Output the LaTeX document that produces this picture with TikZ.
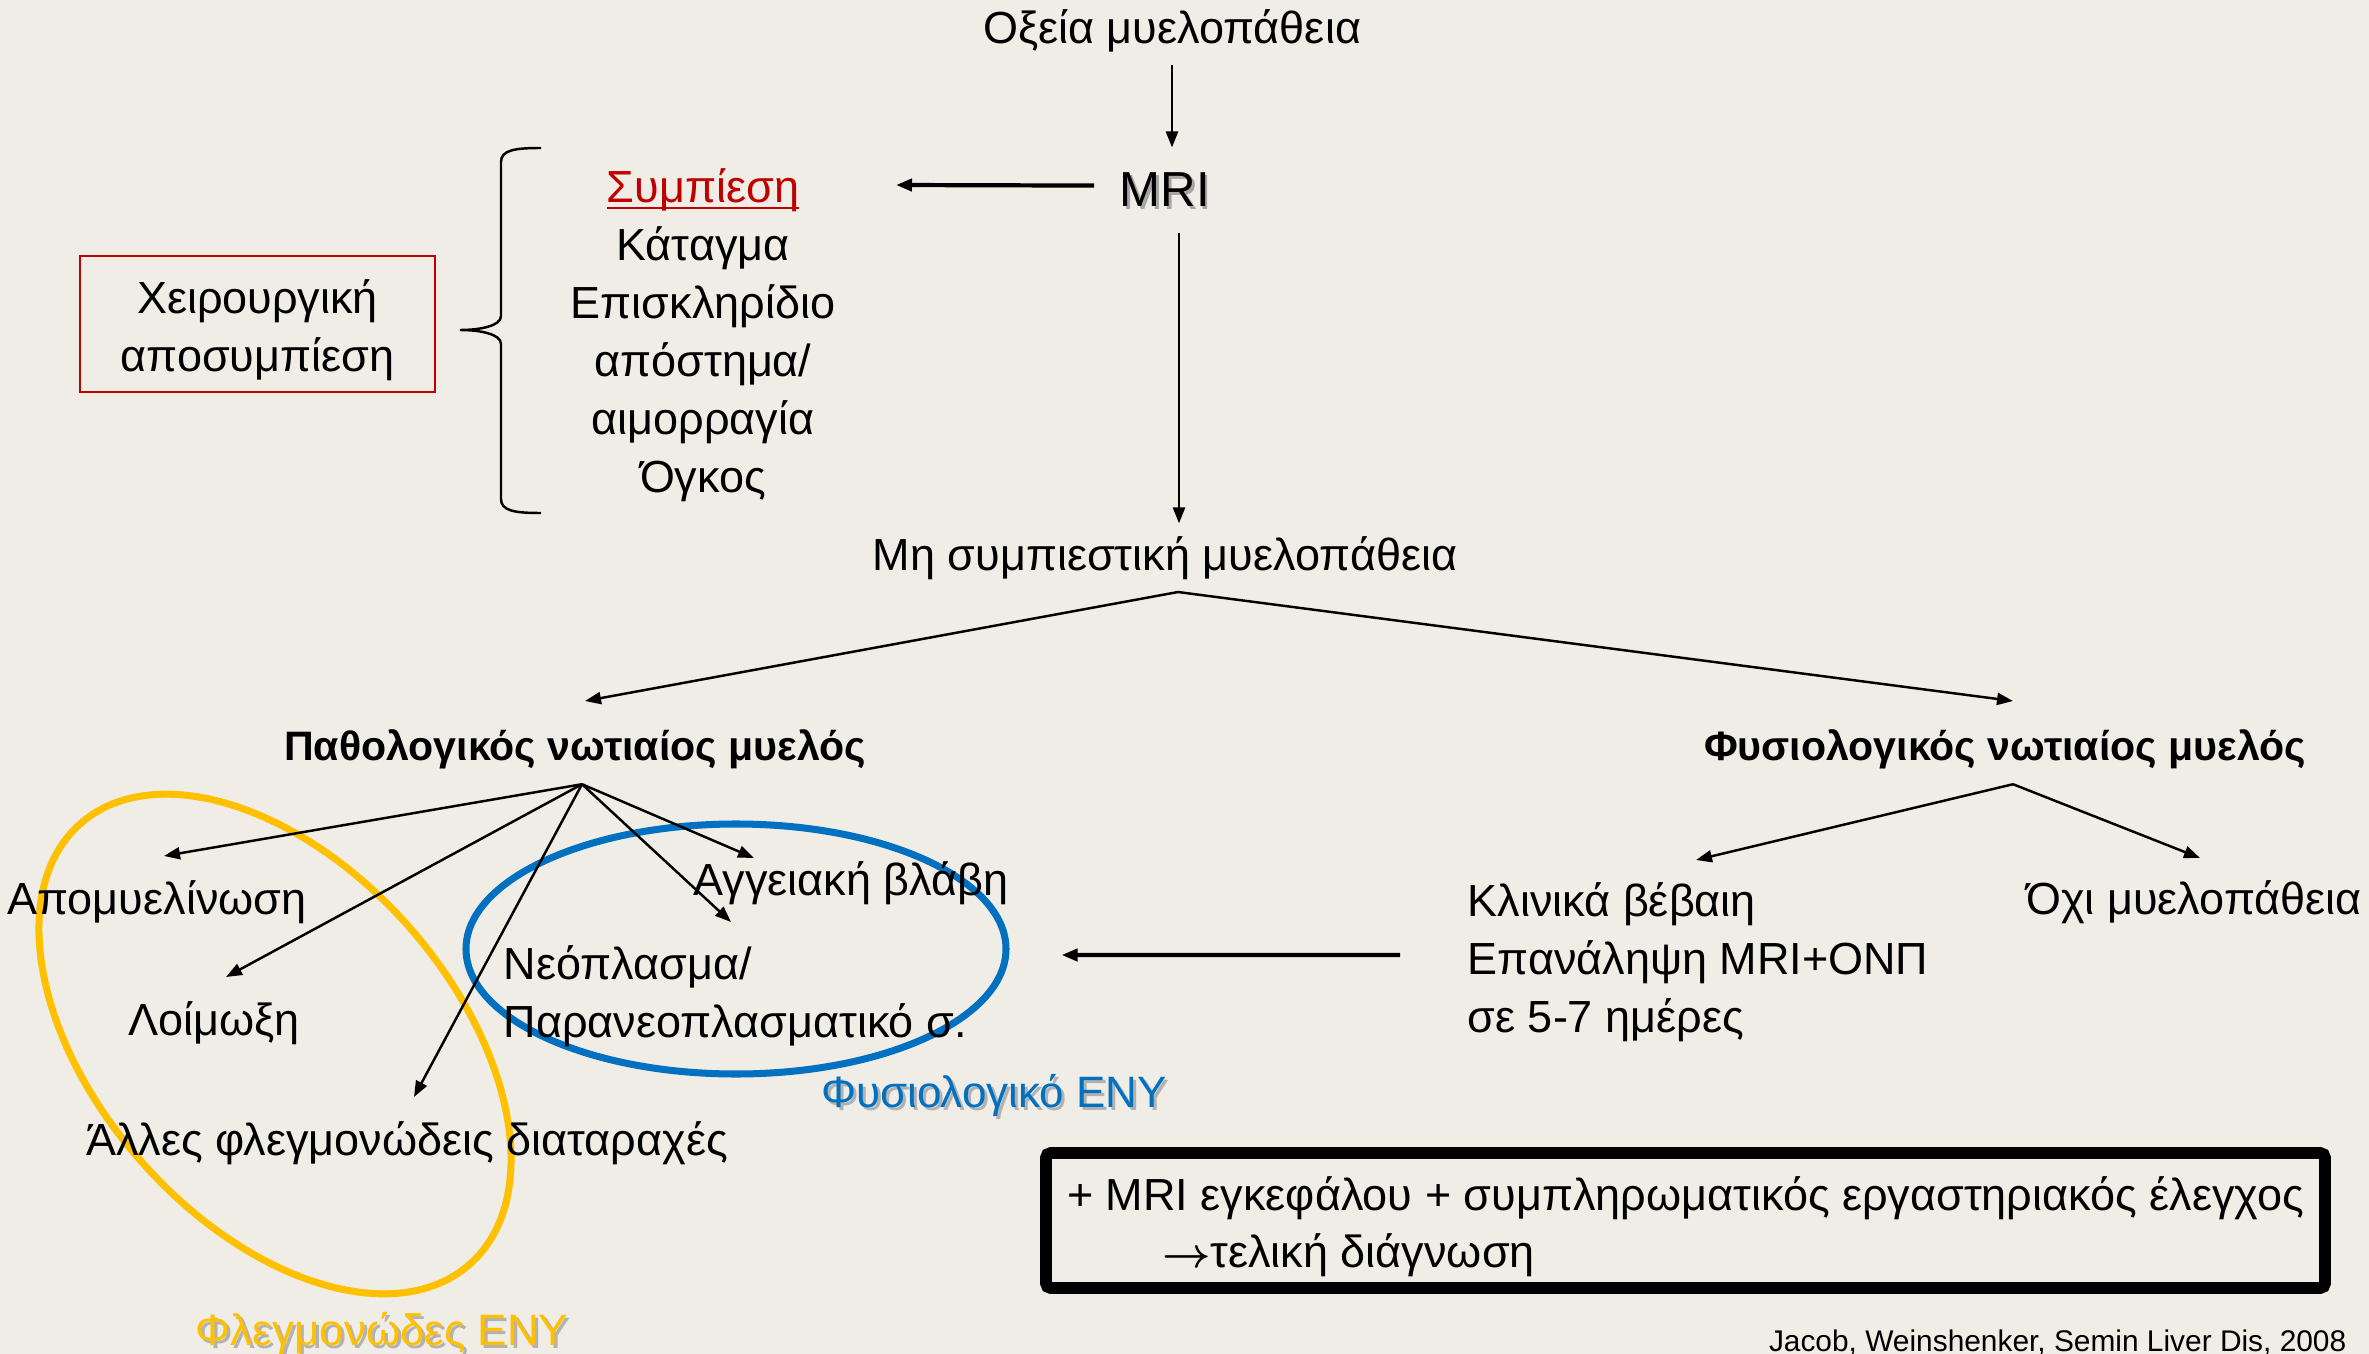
\documentclass[tikz,border=0pt]{standalone}
\usepackage{fontspec}
\setmainfont{Liberation Sans}
\usetikzlibrary{arrows.meta,shapes.geometric}

\definecolor{hintergrund}{RGB}{239,237,230}
\definecolor{dunkelrot}{HTML}{C00000}
\definecolor{blau}{HTML}{0070C0}
\definecolor{gelb}{HTML}{FFC000}
\newcommand{\rotunter}[1]{\setbox0\hbox{#1}\rlap{\rule[-0.06cm]{\wd0}{0.02cm}}\box0}

\tikzset{
  txt/.style={font=\fontsize{12.8}{16.5}\selectfont, inner sep=0.12cm},
  fett/.style={txt, font=\fontsize{11.7}{14}\selectfont\bfseries},
  gross/.style={font=\fontsize{14}{16}\selectfont, inner sep=0.25cm},
  etikett/.style={font=\fontsize{12.5}{15}\selectfont, inner sep=0pt},
  pfeil/.style={-{Triangle[length=1.6mm,width=1.2mm]}, line width=0.7pt},
  dickpfeil/.style={pfeil, line width=1.2pt},
}

\begin{document}
\begin{tikzpicture}
    % Hintergrund
    \fill[hintergrund] (0,0) rectangle (23.69,-13.54);
    \useasboundingbox (0,0) rectangle (23.69,-13.54);

    % Ellipsen
    \draw[gelb, line width=2pt, rotate around={-48.5:(2.75,-10.44)}] (2.75,-10.44) ellipse (2.94 and 1.78);
    \node[draw=blau, line width=2pt, ellipse, minimum width=5.4cm, minimum height=2.5cm, inner sep=0pt] (normaleny) at (7.36,-9.49) {};

    % Kopf
    \node[txt, anchor=base] (oxeia) at (11.72,-0.44) {Οξεία μυελοπάθεια};
    \node[gross, anchor=base, text=black!35] (mrischatten) at (11.675,-2.095) {MRI};
    \node[gross, anchor=base] (mri) at (11.65,-2.07) {MRI};
    \node[txt, align=center] (kompression) at (7.03,-3.355)
        {\textcolor{dunkelrot}{\rotunter{Συμπίεση}}\\Κάταγμα\\Επισκληρίδιο\\απόστημα/\\αιμορραγία\\Όγκος};
    \node[draw=dunkelrot, line width=0.6pt, minimum width=3.55cm, minimum height=1.36cm] (chirurgie) at (2.575,-3.24) {};
    \node[txt, align=center] (chirtext) at ([yshift=-0.06cm]chirurgie.center) {Χειρουργική\\αποσυμπίεση};
    \node[txt, anchor=base] (nichtkomp) at (11.65,-5.70) {Μη συμπιεστική μυελοπάθεια};

    % Klammer
    \draw[line width=0.7pt] (5.41,-1.48) .. controls (5.15,-1.48) and (5.01,-1.50) .. (5.01,-1.62)
        -- (5.01,-3.16) .. controls (5.01,-3.26) and (4.80,-3.30) .. (4.60,-3.30)
        .. controls (4.80,-3.30) and (5.01,-3.34) .. (5.01,-3.44)
        -- (5.01,-4.99) .. controls (5.01,-5.11) and (5.15,-5.13) .. (5.41,-5.13);

    % Zweite Ebene
    \node[fett, anchor=base] (patho) at (5.75,-7.60) {Παθολογικός νωτιαίος μυελός};
    \node[fett, anchor=base] (physio) at (20.05,-7.60) {Φυσιολογικός νωτιαίος μυελός};
    \node[txt, anchor=base] (demyel) at (1.57,-9.14) {Απομυελίνωση};
    \node[txt, anchor=base] (infekt) at (2.14,-10.35) {Λοίμωξη};
    \node[txt, anchor=base] (andere) at (4.07,-11.55) {Άλλες φλεγμονώδεις διαταραχές};
    \node[txt, anchor=base] (gefaess) at (8.51,-8.95) {Αγγειακή βλάβη};
    \node[txt, anchor=west, align=left] (neoplasma) at (4.91,-9.96) {Νεόπλασμα/\\Παρανεοπλασματικό σ.};
    \node[txt, anchor=west, align=left] (klinisch) at (14.55,-9.62) {Κλινικά βέβαιη\\Επανάληψη MRI+ΟΝΠ\\σε 5-7 ημέρες};
    \node[txt, anchor=base] (keine) at (21.94,-9.14) {Όχι μυελοπάθεια};

    % Beschriftungen mit Schatten
    \node[etikett, anchor=base, text=black!30] (physschatten) at (9.97,-11.10) {Φυσιολογικό ΕΝΥ};
    \node[etikett, anchor=base, text=blau] (physeny) at (9.94,-11.07) {Φυσιολογικό ΕΝΥ};
    \node[etikett, anchor=base, text=black!30] (flegschatten) at (3.85,-13.48) {Φλεγμονώδες ΕΝΥ};
    \node[etikett, anchor=base, text=gelb] (flegeny) at (3.82,-13.45) {Φλεγμονώδες ΕΝΥ};

    % Kasten unten
    \node[draw, line width=3.4pt, rounded corners=0.5mm, inner sep=0pt,
          minimum width=12.79cm, minimum height=1.35cm] (endbox) at (16.855,-12.205) {};
    \node[align=left, inner sep=0pt, font=\fontsize{12.8}{16.3}\selectfont] (endtext) at ([yshift=-0.06cm]endbox.center)
        {+ MRI εγκεφάλου + συμπληρωματικός εργαστηριακός έλεγχος\\\hspace*{0.95cm}{\boldmath$\rightarrow$}τελική διάγνωση};
    \node[anchor=base east, font=\fontsize{8.5}{10}\selectfont, inner sep=0pt] (quelle) at (23.47,-13.51)
        {Jacob, Weinshenker, Semin Liver Dis, 2008};

    % Pfeilspitzen
    \coordinate (kompspitze) at (8.96,-1.85);
    \coordinate (pathospitze) at (5.85,-7.01);
    \coordinate (physiospitze) at (20.13,-7.01);
    \coordinate (demspitze) at (1.64,-8.56);
    \coordinate (infspitze) at (2.26,-9.77);
    \coordinate (andspitze) at (4.14,-10.97);
    \coordinate (neospitze) at (7.31,-9.22);
    \coordinate (gefspitze) at (7.54,-8.58);
    \coordinate (klinspitze) at (16.96,-8.60);
    \coordinate (keinespitze) at (22.00,-8.58);

    % Pfeile
    \draw[pfeil] (oxeia.south) -- (oxeia.south |- mri.north);
    \draw[dickpfeil] ([yshift=0.45mm]mri.west) -- (kompspitze);
    \draw[pfeil] ([xshift=1.4mm]mri.south) -- ([xshift=1.4mm]mri.south |- nichtkomp.north);
    \draw[pfeil] ([xshift=1.3mm]nichtkomp.south) -- (pathospitze);
    \draw[pfeil] ([xshift=1.3mm]nichtkomp.south) -- (physiospitze);
    \draw[pfeil] ([xshift=0.7mm,yshift=-0.3mm]patho.south) -- (demspitze);
    \draw[pfeil] ([xshift=0.7mm,yshift=-0.3mm]patho.south) -- (infspitze);
    \draw[pfeil] ([xshift=0.7mm,yshift=-0.3mm]patho.south) -- (andspitze);
    \draw[pfeil] ([xshift=0.7mm,yshift=-0.3mm]patho.south) -- (neospitze);
    \draw[pfeil] ([xshift=0.7mm,yshift=-0.3mm]patho.south) -- (gefspitze);
    \draw[pfeil] ([xshift=0.8mm,yshift=-0.3mm]physio.south) -- (klinspitze);
    \draw[pfeil] ([xshift=0.8mm,yshift=-0.3mm]physio.south) -- (keinespitze);
    \draw[dickpfeil] ([xshift=-5.5mm,yshift=0.7mm]klinisch.west) -- ([xshift=5.2mm,yshift=-0.6mm]normaleny.east);
\end{tikzpicture}
\end{document}
